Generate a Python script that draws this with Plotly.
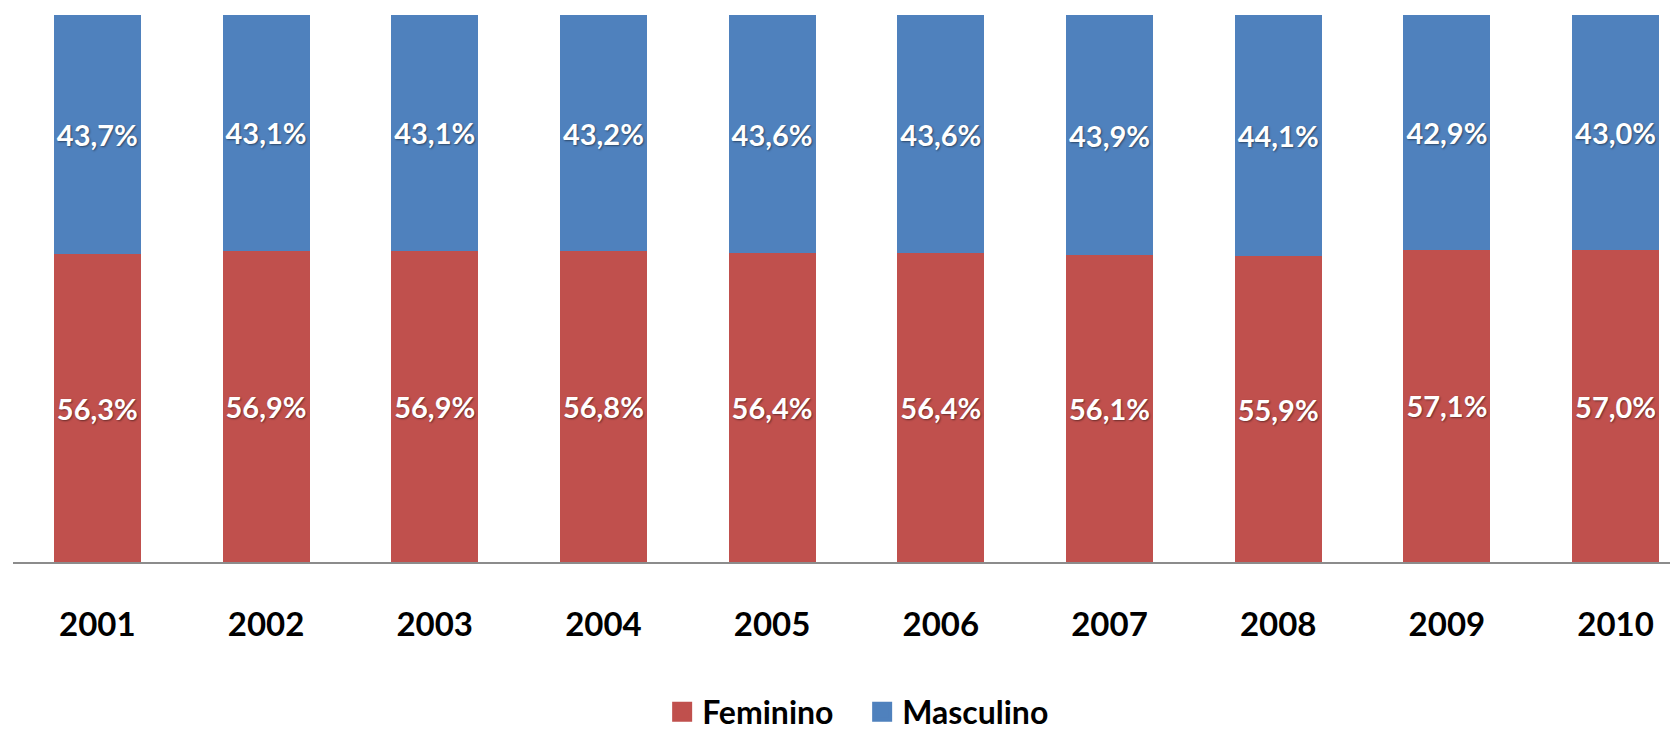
import plotly.graph_objects as go

years = ["2001", "2002", "2003", "2004", "2005", "2006", "2007", "2008", "2009", "2010"]
feminino = [56.3, 56.9, 56.9, 56.8, 56.4, 56.4, 56.1, 55.9, 57.1, 57.0]
masculino = [43.7, 43.1, 43.1, 43.2, 43.6, 43.6, 43.9, 44.1, 42.9, 43.0]

RED = "#C0504D"
BLUE = "#4F81BD"
FONT = "Lato"


def fmt(v):
    return f"{v:.1f}%".replace(".", ",")


fig = go.Figure()
for name, vals, color in [("Feminino", feminino, RED), ("Masculino", masculino, BLUE)]:
    fig.add_trace(go.Bar(
        x=years, y=vals, name=name,
        marker=dict(color=color, line=dict(width=0)),
        width=0.516,
        text=[fmt(v) for v in vals],
        textposition="inside",
        insidetextanchor="middle",
        textangle=0,
        textfont=dict(family=FONT, size=29, color="white", weight="bold",
                      shadow="1px 1px 2px rgba(0,0,0,0.45)"),
        hoverinfo="skip",
        showlegend=False,
    ))
    # legend entry with a larger square symbol
    fig.add_trace(go.Scatter(
        x=[None], y=[None], mode="markers", name=name,
        marker=dict(symbol="square", size=16, color=color,
                    line=dict(color=color, width=4)),
        showlegend=True, hoverinfo="skip",
    ))

fig.update_layout(
    barmode="stack",
    width=1678, height=730,
    margin=dict(l=5, r=8, t=7, b=176, autoexpand=False),
    paper_bgcolor="white", plot_bgcolor="white",
    font=dict(family=FONT, color="black"),
    showlegend=True,
    legend=dict(
        orientation="h", x=0.51, xanchor="center", y=-0.274, yanchor="middle",
        font=dict(family=FONT, size=32, color="black", weight="bold"),
        itemwidth=30, traceorder="normal", entrywidth=155,
    ),
    xaxis=dict(
        type="category", range=[-0.5, 9.37], automargin=False,
        showline=True, linecolor="#8c8c8c", linewidth=2,
        showgrid=False, zeroline=False, ticks="",
        tickfont=dict(family=FONT, size=33, color="black", weight="bold"),
        ticklabelstandoff=32,
    ),
    yaxis=dict(range=[0, 100], visible=False, showgrid=False, zeroline=False,
               automargin=False),
)

fig.write_html("out.html")
